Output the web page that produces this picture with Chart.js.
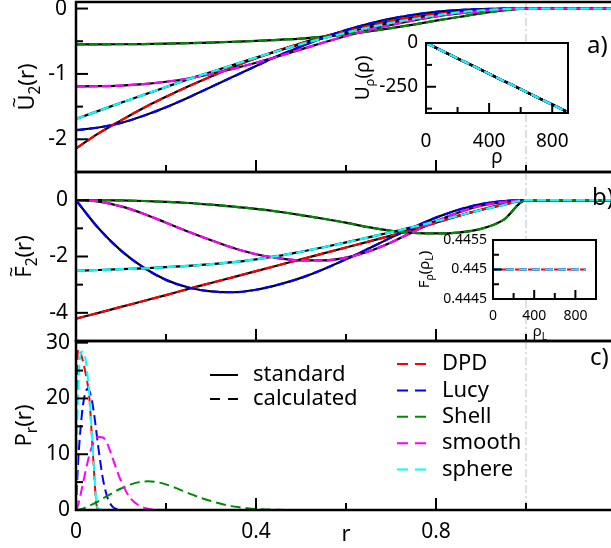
<!DOCTYPE html>
<html>
<head>
<meta charset="utf-8">
<script src="https://cdn.jsdelivr.net/npm/chart.js@4.4.0/dist/chart.umd.min.js"></script>
<style>
  html, body { margin: 0; padding: 0; background: #fff; overflow: hidden; }
  #wrap { position: relative; width: 625px; height: 548px; }
  #wrap canvas { position: absolute; left: 0; top: 0; }
</style>
</head>
<body>
<div id="wrap">
  <canvas id="cA" width="625" height="548"></canvas>
  <canvas id="cB" width="625" height="548"></canvas>
  <canvas id="cC" width="625" height="548"></canvas>
  <canvas id="cIa" width="625" height="548"></canvas>
  <canvas id="cIb" width="625" height="548"></canvas>
</div>
<script>
Chart.defaults.font.family = '"Noto Sans", sans-serif';
Chart.defaults.color = '#000';

const kernels = ['DPD', 'Lucy', 'Shell', 'smooth', 'sphere'];
const colors = ['#ff0000', '#0000ff', '#008a00', '#ff00ff', '#00ffff'];

// panels a) and b): r grid
const r = [0, 0.05, 0.1, 0.15, 0.2, 0.25, 0.3, 0.35, 0.4, 0.45, 0.5,
  0.55, 0.6, 0.65, 0.7, 0.75, 0.8, 0.85, 0.9, 0.95, 1.0, 1.2];

// a) U2(r)
const uDPD = [-2.14, -1.91, -1.71, -1.52, -1.35, -1.19, -1.04, -0.89, -0.76, -0.64, -0.53,
  -0.43, -0.34, -0.26, -0.19, -0.13, -0.085, -0.05, -0.02, -0.005, 0, 0];
const uLucy = [-1.86, -1.82, -1.75, -1.64, -1.51, -1.36, -1.2, -1.04, -0.88, -0.72, -0.58,
  -0.445, -0.33, -0.235, -0.155, -0.095, -0.05, -0.022, -0.008, -0.002, 0, 0];
const uShell = [-0.547, -0.547, -0.546, -0.543, -0.538, -0.53, -0.52, -0.508, -0.495, -0.478, -0.46,
  -0.43, -0.395, -0.35, -0.3, -0.245, -0.185, -0.13, -0.075, -0.03, 0, 0];
const uSmooth = [-1.19, -1.188, -1.178, -1.155, -1.12, -1.07, -1.0, -0.92, -0.83, -0.73, -0.625,
  -0.52, -0.42, -0.33, -0.25, -0.18, -0.12, -0.075, -0.04, -0.015, 0, 0];
const uSphere = [-1.69, -1.565, -1.44, -1.32, -1.2, -1.08, -0.97, -0.86, -0.75, -0.645, -0.545,
  -0.455, -0.37, -0.29, -0.22, -0.16, -0.105, -0.06, -0.03, -0.01, 0, 0];

// b) F2(r)
const fDPD = [-4.21, -4.0, -3.79, -3.58, -3.37, -3.15, -2.94, -2.73, -2.52, -2.31, -2.1,
  -1.89, -1.68, -1.47, -1.26, -1.04, -0.8, -0.56, -0.34, -0.15, 0, 0];
const fLucy = [0, -1.0, -1.79, -2.39, -2.83, -3.1, -3.24, -3.27, -3.18, -3.0, -2.76,
  -2.45, -2.1, -1.72, -1.33, -0.96, -0.62, -0.34, -0.14, -0.03, 0, 0];
const fShell = [0, 0, -0.01, -0.03, -0.06, -0.1, -0.16, -0.23, -0.31, -0.41, -0.53,
  -0.66, -0.8, -0.96, -1.09, -1.16, -1.18, -1.15, -1.02, -0.7, 0, 0];
const fSmooth = [0, -0.05, -0.22, -0.48, -0.8, -1.12, -1.42, -1.7, -1.92, -2.06, -2.14,
  -2.14, -2.04, -1.82, -1.5, -1.12, -0.75, -0.44, -0.2, -0.06, 0, 0];
const fSphere = [-2.51, -2.48, -2.45, -2.42, -2.38, -2.33, -2.27, -2.2, -2.1, -1.98, -1.83,
  -1.67, -1.5, -1.32, -1.14, -0.95, -0.75, -0.55, -0.35, -0.17, 0, 0];

// c) Pr(r): finer grid near 0
const rc = [0, 0.0025, 0.005, 0.0075, 0.01, 0.015, 0.02, 0.025, 0.03, 0.035, 0.04, 0.045, 0.05,
  0.06, 0.07, 0.08, 0.09, 0.1, 0.12, 0.14, 0.16, 0.18, 0.2, 0.22, 0.24, 0.26, 0.28, 0.3,
  0.32, 0.34, 0.36, 0.38, 0.4, 0.45, 0.5, 1.2];
const pDPD = [0, 24, 28.8, 28.9, 28.3, 26.8, 25, 23, 19.8, 13.5, 7, 1.2, 0];
const pLucy = [0, 5, 9, 12, 14.5, 18.5, 20.8, 21.7, 21.3, 19.8, 17.3, 14.2, 11,
  5.5, 2.2, 0.7, 0.15, 0];
const pShell = [0, 0.02, 0.05, 0.1, 0.15, 0.25, 0.4, 0.55, 0.75, 0.95, 1.15, 1.35, 1.6,
  2.1, 2.55, 3.0, 3.45, 3.85, 4.55, 5.0, 5.15, 5.0, 4.6, 4.0, 3.35, 2.7, 2.1, 1.6,
  1.15, 0.8, 0.52, 0.32, 0.18, 0.04, 0];
const pSmooth = [0, 0.4, 1.0, 1.8, 2.7, 4.6, 6.5, 8.3, 10, 11.3, 12.3, 12.9, 13.1,
  13.0, 11.8, 9.6, 7.3, 5.2, 2.2, 0.8, 0.25, 0.05, 0];
const pSphere = [0, 14, 22, 26, 27.8, 28.4, 27.6, 24.5, 20.5, 14.2, 7.6, 1.6, 0.2, 0];

// insets
const rho = [0, 100, 200, 300, 400, 500, 600, 700, 800, 900];
const uRho = [0, -44, -88, -132, -176, -220, -264, -308, -352, -396];
const fRhoL = [0.445, 0.445, 0.445, 0.445, 0.445, 0.445, 0.445, 0.445, 0.445, 0.445];

// ticks
const rLabels = [0, 0.4, 0.8];
const rMajor = [0, 0.4, 0.8, 1.2];
const rMinor = [0.2, 0.6, 1.0];
const uMajor = [0, -1, -2];
const uMinor = [-0.5, -1.5];
const fMajor = [0, -2, -4];
const fMinor = [-1, -3];
const pMajor = [0, 10, 20, 30];
const pMinor = [5, 15, 25];
const rhoMajor = [0, 400, 800];
const rhoMinor = [200, 600];
const uRhoMajor = [0, -250];
const uRhoMinor = [-125, -375];
const fRhoMajor = [0.4455, 0.445, 0.4445];
const fRhoMinor = [0.44525, 0.44475];

function pts(xs, ys) {
  return ys.map((v, j) => ({ x: xs[j], y: v }));
}

function lineSets(xs, series, black, width, dash, offsets) {
  const sets = [];
  series.forEach((ys, i) => {
    sets.push({ data: pts(xs, ys), borderColor: colors[i], borderWidth: width, borderDash: dash,
      borderDashOffset: offsets ? offsets[i] : 0,
      pointRadius: 0, cubicInterpolationMode: 'monotone', order: 5 - i });
    if (black) {
      sets.push({ data: pts(xs, ys), borderColor: '#000', borderWidth: width,
        pointRadius: 0, cubicInterpolationMode: 'monotone', order: 10 });
    }
  });
  return sets;
}

function yAxis(min, max, labels, width, pad, size) {
  return {
    type: 'linear', min: min, max: max,
    grid: { display: false, drawTicks: false },
    border: { display: false },
    ticks: { autoSkip: false, padding: pad, font: { size: size }, callback: v => String(v) },
    afterBuildTicks: s => { s.ticks = labels.map(v => ({ value: v })); },
    afterFit: s => { s.width = width; s.paddingTop = 0; s.paddingBottom = 0; }
  };
}

function xAxis(min, max, labels, height, pad, size, title) {
  return {
    type: 'linear', min: min, max: max,
    grid: { display: false, drawTicks: false },
    border: { display: false },
    ticks: { autoSkip: false, maxRotation: 0, padding: pad, font: { size: size }, callback: v => String(v) },
    title: title || { display: false },
    afterBuildTicks: s => { s.ticks = labels.map(v => ({ value: v })); },
    afterFit: s => { s.height = height; s.paddingLeft = 0; s.paddingRight = 0; }
  };
}

// text with subscripts and tildes
function rich(ctx, parts, x, y, size, vertical) {
  const font = s => s + 'px "Noto Sans", sans-serif';
  ctx.save();
  ctx.translate(x, y);
  if (vertical) ctx.rotate(-Math.PI / 2);
  ctx.fillStyle = '#000';
  ctx.textAlign = 'left';
  ctx.textBaseline = 'alphabetic';
  let w = 0;
  const widths = parts.map(p => {
    ctx.font = font(p[1] === 'sub' ? size * 0.7 : size);
    const m = ctx.measureText(p[0]).width;
    w += m;
    return m;
  });
  let cx = -w / 2;
  parts.forEach((p, i) => {
    const sub = p[1] === 'sub';
    ctx.font = font(sub ? size * 0.7 : size);
    ctx.fillText(p[0], cx, sub ? size * 0.28 : 0);
    if (p[1] === 'tilde') {
      ctx.font = font(size * 0.8);
      const tw = ctx.measureText('~').width;
      ctx.fillText('~', cx + (widths[i] - tw) / 2, -size * 0.6);
    }
    cx += widths[i];
  });
  ctx.restore();
}

const decoCfg = {
  cA: { vline: true, frame: 2.5, major: 12, minor: 7,
    yMajor: uMajor, yMinor: uMinor, xMajor: rMajor, xMinor: rMinor,
    ytitle: { parts: [['U', 'tilde'], ['2', 'sub'], ['(r)', '']], x: 34, size: 22 },
    tag: { text: 'a)', x: 587, y: 53 } },
  cB: { vline: true, frame: 2.5, major: 12, minor: 7,
    yMajor: fMajor, yMinor: fMinor, xMajor: rMajor, xMinor: rMinor,
    ytitle: { parts: [['F', 'tilde'], ['2', 'sub'], ['(r)', '']], x: 31, size: 22 },
    tag: { text: 'b)', x: 592, y: 205 } },
  cC: { vline: true, frame: 2.5, major: 12, minor: 7,
    yMajor: pMajor, yMinor: pMinor, xMajor: rMajor, xMinor: rMinor,
    ytitle: { parts: [['P', ''], ['r', 'sub'], ['(r)', '']], x: 31, size: 22 },
    tag: { text: 'c)', x: 590, y: 365 }, legend: true },
  cIa: { white: true, frame: 2, major: 10, minor: 6,
    yMajor: uRhoMajor, yMinor: uRhoMinor, xMajor: rhoMajor, xMinor: rhoMinor,
    ytitle: { parts: [['U', ''], ['ρ', 'sub'], ['(ρ)', '']], x: 369, size: 19 },
    xtitle: { parts: [['ρ', '']], x: 497, y: 163, size: 19 } },
  cIb: { white: true, frame: 2, major: 9, minor: 6,
    yMajor: fRhoMajor, yMinor: fRhoMinor, xMajor: rhoMajor, xMinor: rhoMinor,
    ytitle: { parts: [['F', ''], ['ρ', 'sub'], ['(ρ', ''], ['L', 'sub'], [')', '']], x: 429, size: 15 },
    xtitle: { parts: [['ρ', ''], ['L', 'sub']], x: 540, y: 336, size: 15 } }
};

const deco = {
  id: 'deco',
  beforeDatasetsDraw(chart) {
    const o = decoCfg[chart.canvas.id];
    const ctx = chart.ctx, a = chart.chartArea;
    ctx.save();
    if (o.white) {
      ctx.fillStyle = '#fff';
      ctx.fillRect(a.left, a.top, a.right - a.left, a.bottom - a.top);
    }
    if (o.vline) {
      const px = chart.scales.x.getPixelForValue(1);
      ctx.strokeStyle = '#c8c8c8';
      ctx.lineWidth = 1.2;
      ctx.setLineDash([8, 3, 2, 3]);
      ctx.beginPath();
      ctx.moveTo(px, a.top);
      ctx.lineTo(px, a.bottom);
      ctx.stroke();
    }
    ctx.restore();
  },
  afterDatasetsDraw(chart) {
    const o = decoCfg[chart.canvas.id];
    const ctx = chart.ctx, a = chart.chartArea;
    const x = chart.scales.x, y = chart.scales.y;
    ctx.save();
    ctx.strokeStyle = '#000';
    ctx.lineWidth = o.frame;
    ctx.strokeRect(a.left, a.top, a.right - a.left, a.bottom - a.top);
    ctx.lineWidth = 2;
    const yt = (v, len) => {
      const p = y.getPixelForValue(v);
      ctx.beginPath(); ctx.moveTo(a.left, p); ctx.lineTo(a.left + len, p); ctx.stroke();
    };
    const xt = (v, len) => {
      const p = x.getPixelForValue(v);
      ctx.beginPath(); ctx.moveTo(p, a.bottom); ctx.lineTo(p, a.bottom - len); ctx.stroke();
    };
    o.yMajor.forEach(v => yt(v, o.major));
    o.yMinor.forEach(v => yt(v, o.minor));
    o.xMajor.forEach(v => xt(v, o.major));
    o.xMinor.forEach(v => xt(v, o.minor));
    ctx.restore();
  },
  afterDraw(chart) {
    const o = decoCfg[chart.canvas.id];
    const ctx = chart.ctx, a = chart.chartArea;
    rich(ctx, o.ytitle.parts, o.ytitle.x, (a.top + a.bottom) / 2, o.ytitle.size, true);
    if (o.xtitle) rich(ctx, o.xtitle.parts, o.xtitle.x, o.xtitle.y, o.xtitle.size, false);
    ctx.save();
    ctx.fillStyle = '#000';
    if (o.tag) {
      ctx.font = '24px "Noto Sans", sans-serif';
      ctx.textAlign = 'left';
      ctx.textBaseline = 'alphabetic';
      ctx.fillText(o.tag.text, o.tag.x, o.tag.y);
    }
    if (o.legend) {
      const seg = (x1, x2, yy) => { ctx.beginPath(); ctx.moveTo(x1, yy); ctx.lineTo(x2, yy); ctx.stroke(); };
      ctx.font = '22px "Noto Sans", sans-serif';
      ctx.textAlign = 'left';
      ctx.textBaseline = 'middle';
      ctx.lineWidth = 2;
      ctx.strokeStyle = '#000';
      seg(210, 238, 375);
      ctx.fillText('standard', 253, 375);
      ctx.setLineDash([10, 8]);
      seg(210, 238, 399);
      ctx.fillText('calculated', 253, 399);
      ctx.setLineDash([11, 7]);
      kernels.forEach((k, i) => {
        const yy = 364 + i * 26.4;
        ctx.strokeStyle = colors[i];
        seg(397, 426, yy);
        ctx.fillText(k, 442, yy);
      });
    }
    ctx.restore();
  }
};

function makeChart(id, datasets, scales, padding) {
  return new Chart(document.getElementById(id), {
    type: 'line',
    data: { datasets: datasets },
    options: {
      responsive: false,
      animation: false,
      events: [],
      layout: { padding: padding },
      plugins: { legend: { display: false }, tooltip: { enabled: false } },
      scales: scales
    },
    plugins: [deco]
  });
}

const hiddenX = { type: 'linear', min: 0, max: 1.2, display: false };

// a)
makeChart('cA',
  lineSets(r, [uDPD, uLucy, uShell, uSmooth, uSphere], true, 2.2, [9, 4]),
  { x: hiddenX, y: yAxis(-2.5, 0.1, uMajor, 76, 9, 21) },
  { left: 0, right: 9, top: 2, bottom: 376 });

// b)
makeChart('cB',
  lineSets(r, [fDPD, fLucy, fShell, fSmooth, fSphere], true, 2.2, [9, 4]),
  { x: hiddenX, y: yAxis(-5, 1, fMajor, 76, 8, 21) },
  { left: 0, right: 9, top: 172, bottom: 207 });

// c)
makeChart('cC',
  lineSets(rc, [pDPD, pLucy, pShell, pSmooth, pSphere], false, 2, [10, 5]),
  { x: xAxis(0, 1.2, rLabels, 38, 9, 21,
      { display: true, text: 'r', font: { size: 22 }, padding: { top: 0, bottom: 0 } }),
    y: yAxis(0, 30.3, pMajor, 76, 6, 21) },
  { left: 0, right: 9, top: 341, bottom: 0 });

// inset a)
makeChart('cIa',
  lineSets(rho, [uRho, uRho, uRho, uRho, uRho], true, 2.2, [9, 4]),
  { x: xAxis(0, 900, rhoMajor, 35, 17, 19), y: yAxis(-400, 0, uRhoMajor, 60, 8, 19) },
  { left: 366, right: 57, top: 43, bottom: 400 });

// inset b)
makeChart('cIb',
  lineSets(rho, [fRhoL, fRhoL, fRhoL, fRhoL, fRhoL], false, 2, [8, 5], [4, 0, 0, 0, 0]),
  { x: xAxis(0, 1000, rhoMajor, 25, 9, 14), y: yAxis(0.4445, 0.4455, fRhoMajor, 50, 6, 14) },
  { left: 443, right: 29, top: 240, bottom: 224 });
</script>
</body>
</html>
